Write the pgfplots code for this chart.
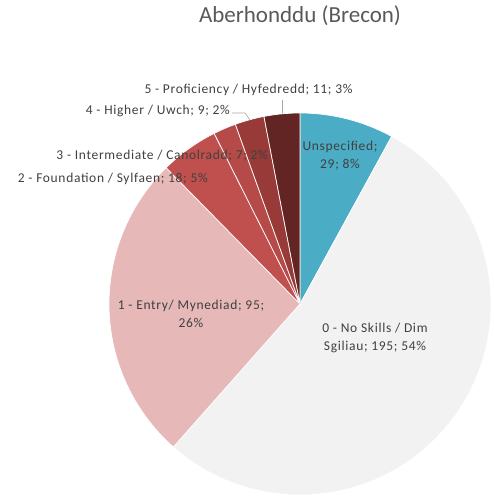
\documentclass[border=0pt]{standalone}
\usepackage{fontspec}
\setmainfont{Carlito}
\newfontfamily\labfont[LetterSpace=5]{Carlito}
\usepackage{pgfplots}
\usepackage{pgfplotstable}
\pgfplotsset{compat=1.18}

\definecolor{cUns}{HTML}{4BACC6}
\definecolor{cNone}{HTML}{F2F2F2}
\definecolor{cEntry}{HTML}{E6B9B8}
\definecolor{cFound}{HTML}{C0504D}
\definecolor{cInter}{HTML}{B54A48}
\definecolor{cHigh}{HTML}{983A38}
\definecolor{cProf}{HTML}{632523}
\definecolor{txt}{HTML}{404040}
\definecolor{ttl}{HTML}{595959}

% slice values, clockwise from 12 o'clock
\pgfplotstableread{
value colour
29  cUns
195 cNone
95  cEntry
18  cFound
7   cInter
9   cHigh
11  cProf
}\piedata

% start/end angles of each slice
\gdef\pietotal{0}
\pgfplotstableforeachcolumnelement{value}\of\piedata\as\v{%
  \pgfmathsetmacro\t{\pietotal+\v}\xdef\pietotal{\t}}
\gdef\piecum{0}
\pgfplotstableforeachcolumnelement{value}\of\piedata\as\v{%
  \pgfmathsetmacro\s{90-(\piecum/\pietotal)*360}%
  \pgfmathsetmacro\c{\piecum+\v}\xdef\piecum{\c}%
  \pgfmathsetmacro\e{90-(\piecum/\pietotal)*360}%
  \expandafter\xdef\csname ps\pgfplotstablerow\endcsname{\s}%
  \expandafter\xdef\csname pe\pgfplotstablerow\endcsname{\e}}

\newcommand{\slice}[2]{%
  \fill[#2, draw=white, line width=0.7pt] (axis cs:300,196) -- ++(\csname ps#1\endcsname:191pt)
    arc[start angle=\csname ps#1\endcsname, end angle=\csname pe#1\endcsname, radius=191pt] -- cycle;}

\begin{document}
\begin{tikzpicture}
\begin{axis}[
  width=494pt, height=500pt, scale only axis,
  xmin=0, xmax=494, ymin=0, ymax=500,
  hide axis, clip=false,
]
\coordinate (ll) at (axis cs:0,0);
\coordinate (ur) at (axis cs:494,500);
\slice{0}{cUns}
\slice{1}{cNone}
\slice{2}{cEntry}
\slice{3}{cFound}
\slice{4}{cInter}
\slice{5}{cHigh}
\slice{6}{cProf}

\node[font=\fontsize{23}{26}\selectfont, text=ttl] at (axis cs:300,484) {Aberhonddu (Brecon)};

\begin{scope}[every node/.style={font=\labfont\fontsize{13.5}{18}\selectfont, text=txt, inner sep=0pt}]
\node[anchor=center] at (axis cs:248.5,410) {5 - Proficiency / Hyfedredd; 11; 3\%};
\node[anchor=east] at (axis cs:230,389) {4 - Higher / Uwch; 9; 2\%};
\node[anchor=east] at (axis cs:268,344) {3 - Intermediate / Canolradd; 7; 2\%};
\node[anchor=east] at (axis cs:208,321) {2 - Foundation / Sylfaen; 18; 5\%};
\node[align=center] at (axis cs:340,344) {Unspecified;\\29; 8\%};
\node[align=center] at (axis cs:191,186) {1 - Entry/ Mynediad; 95;\\26\%};
\node[align=center] at (axis cs:375,162) {0 - No Skills / Dim\\Sgiliau; 195; 54\%};
\end{scope}
\draw[gray!70, line width=0.6pt] (axis cs:282,400) -- (axis cs:282,387);
\draw[gray!70, line width=0.6pt] (axis cs:232,387) -- (axis cs:245,387) -- (axis cs:250,380);
\end{axis}
\pgfresetboundingbox
\path (ll) rectangle (ur);
\end{tikzpicture}
\end{document}
